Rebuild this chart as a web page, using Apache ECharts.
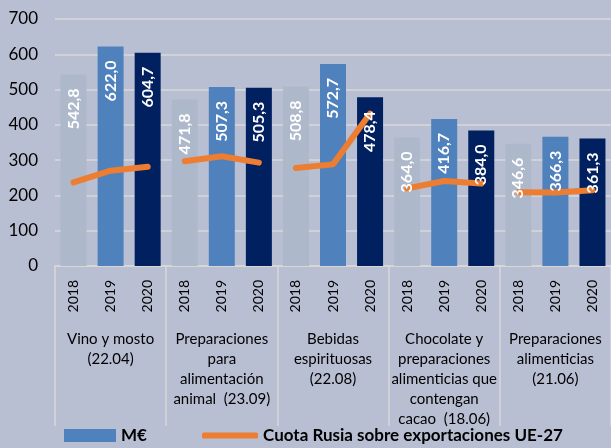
<!DOCTYPE html>
<html lang="es">
<head>
    <meta charset="UTF-8">
    <title>Exportaciones</title>
    <style>
        html, body { margin: 0; padding: 0; background: #b9bfd3; }
    </style>
</head>
<body>
<div id="container" style="width:611px;height:448px"></div>
<script type="text/javascript" src="https://cdn.jsdelivr.net/npm/echarts@6/dist/echarts.min.js"></script>
<script type="text/javascript">
    // datos
    var years = ['2018', '2019', '2020'];
    var groups = [
        'Vino y mosto\n(22.04)',
        'Preparaciones\npara\nalimentación\nanimal  (23.09)',
        'Bebidas\nespirituosas\n(22.08)',
        'Chocolate y\npreparaciones\nalimenticias que\ncontengan\ncacao  (18.06)',
        'Preparaciones\nalimenticias\n(21.06)'
    ];
    var vino = [542.8, 622.0, 604.7];
    var animal = [471.8, 507.3, 505.3];
    var bebidas = [508.8, 572.7, 478.4];
    var chocolate = [364.0, 416.7, 384.0];
    var alimenticias = [346.6, 366.3, 361.3];
    var cuotaVino = [237, 270, 281];
    var cuotaAnimal = [297, 311, 293];
    var cuotaBebidas = [278, 288, 432];
    var cuotaChocolate = [220, 241, 234];
    var cuotaAlimenticias = [209, 208, 215];
    var yTicks = [0, 100, 200, 300, 400, 500, 600, 700];

    var barColors = ['#adb9ca', '#4f81bd', '#002060'];
    var font = 'Lato';

    var valores = [vino, animal, bebidas, chocolate, alimenticias];
    var cuotas = [cuotaVino, cuotaAnimal, cuotaBebidas, cuotaChocolate, cuotaAlimenticias];

    var yearCats = [];
    var barData = [];
    var labelData = [];
    valores.forEach(function (g) {
        g.forEach(function (v, i) {
            yearCats.push(years[i]);
            barData.push({ value: v, itemStyle: { color: barColors[i] } });
            labelData.push(v);
        });
    });

    var lineName = 'Cuota Rusia sobre exportaciones UE-27';
    var lineSeries = cuotas.map(function (c, gi) {
        var d = [];
        for (var k = 0; k < yearCats.length; k++) d.push('-');
        c.forEach(function (v, i) { d[gi * 3 + i] = v; });
        return {
            name: lineName,
            type: 'line',
            data: d,
            symbol: 'none',
            z: 3,
            lineStyle: { color: '#ed7d31', width: 6, cap: 'round' },
            itemStyle: { color: '#ed7d31' }
        };
    });

    var dom = document.getElementById('container');
    var myChart = echarts.init(dom, null, { renderer: 'canvas' });

    var legendText = { fontFamily: font, fontWeight: 'bold', fontSize: 17, color: '#000' };

    var option = {
        backgroundColor: '#b9bfd3',
        animation: false,
        textStyle: { fontFamily: font },
        grid: { left: 55, right: 0, top: 19, bottom: 182 },
        legend: [
            {
                left: 64,
                top: 427,
                padding: 0,
                itemWidth: 52,
                itemHeight: 13,
                textStyle: legendText,
                data: [{ name: 'M€', icon: 'rect' }]
            },
            {
                left: 202,
                top: 427,
                padding: 0,
                itemWidth: 56,
                itemHeight: 6,
                textStyle: legendText,
                data: [{ name: lineName, icon: 'roundRect' }]
            }
        ],
        xAxis: [
            {
                type: 'category',
                data: yearCats,
                axisLine: { lineStyle: { color: '#d9d9d9', width: 1.5 } },
                axisTick: { show: false },
                axisLabel: {
                    interval: 0,
                    rotate: 90,
                    margin: 14,
                    fontSize: 14,
                    color: '#000',
                    fontFamily: font
                }
            },
            {
                type: 'category',
                data: groups,
                position: 'bottom',
                axisLine: { show: false },
                axisTick: { show: true, length: 160, lineStyle: { color: '#d9d9d9', width: 1.5 } },
                axisLabel: {
                    interval: 0,
                    margin: 63,
                    fontSize: 15,
                    lineHeight: 20,
                    color: '#000',
                    fontFamily: font,
                    verticalAlign: 'top'
                }
            }
        ],
        yAxis: {
            type: 'value',
            min: yTicks[0],
            max: yTicks[yTicks.length - 1],
            interval: 100,
            axisLine: { show: false },
            axisTick: { show: false },
            splitLine: { lineStyle: { color: '#d9d9d9', width: 1.5 } },
            axisLabel: { fontSize: 17, color: '#000', margin: 17, fontFamily: font }
        },
        series: [
            {
                name: 'M€',
                type: 'bar',
                data: barData,
                barWidth: 26,
                z: 2,
                itemStyle: { color: '#4f81bd' }
            },
            {
                // solo etiquetas, por encima de la línea
                name: 'etiquetas',
                type: 'bar',
                data: labelData,
                barWidth: 26,
                barGap: '-100%',
                z: 5,
                silent: true,
                itemStyle: { color: 'rgba(0,0,0,0)' },
                label: {
                    show: true,
                    position: 'insideTop',
                    rotate: 90,
                    align: 'right',
                    verticalAlign: 'middle',
                    distance: 14,
                    color: '#fff',
                    fontWeight: 'bold',
                    fontSize: 16,
                    fontFamily: font,
                    formatter: function (p) {
                        return p.value.toFixed(1).replace('.', ',');
                    }
                }
            }
        ].concat(lineSeries)
    };

    myChart.setOption(option);
    window.addEventListener('resize', myChart.resize);
</script>
</body>
</html>
